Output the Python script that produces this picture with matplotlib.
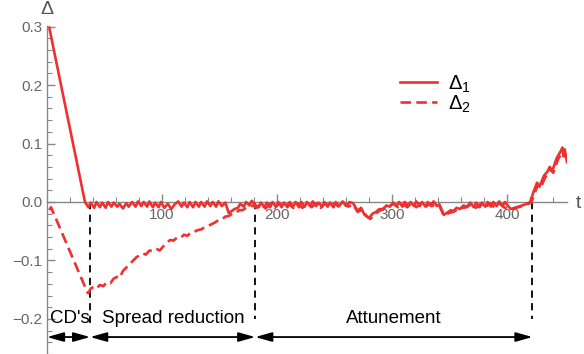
import matplotlib
matplotlib.use('Agg')
import matplotlib.pyplot as plt
from matplotlib.ticker import MultipleLocator, FuncFormatter, FixedLocator

plt.rcParams['font.family'] = ['Liberation Sans', 'DejaVu Sans']
plt.rcParams['mathtext.fontset'] = 'custom'
plt.rcParams['mathtext.rm'] = 'Liberation Sans'

# Delta_1 (solid)
t1 = [2, 33, 36, 38, 41, 43, 46, 48, 51, 53, 56, 58, 61, 63, 66, 69, 71, 74, 77, 79,
      82, 84, 87, 89, 92, 94, 97, 99, 102, 105, 108, 111, 114, 117, 119, 122, 124, 127,
      129, 132, 134, 137, 139, 142, 144, 147, 149, 152, 155, 158, 163, 166, 168, 171,
      173, 176, 178, 181, 184, 186, 189, 191, 194, 196, 199, 201, 204, 206, 209, 211,
      214, 216, 219, 221, 224, 226, 229, 231, 234, 236, 239, 241, 244, 246, 249, 251,
      254, 257, 260, 263, 266, 270, 273, 276, 280, 283, 286, 289, 292, 295, 298, 301,
      304, 306, 309, 311, 314, 316, 319, 321, 324, 326, 329, 331, 334, 336, 339, 341,
      345, 348, 351, 353, 356, 359, 362, 365, 368, 371, 373, 376, 378, 381, 383, 386,
      388, 391, 393, 396, 398, 403, 408, 413, 417, 420, 423, 426, 428, 432, 435, 437,
      439, 443, 446, 448, 449, 450, 452]
d1 = [0.298, 0.0, -0.009, -0.001, -0.010, 0.0, -0.009, -0.001, -0.010, 0.0, -0.008,
      -0.001, -0.008, -0.003, -0.011, -0.002, -0.008, 0.0, -0.008, 0.001, -0.007,
      0.0, -0.008, 0.001, -0.009, -0.001, -0.009, 0.0, -0.010, -0.003, -0.012,
      -0.004, 0.001, -0.008, -0.001, -0.009, 0.0, -0.009, 0.0, -0.008, 0.0,
      -0.008, 0.001, -0.007, 0.0, -0.008, 0.001, -0.007, -0.001, -0.019, -0.012,
      -0.010, -0.003, -0.008, 0.0, -0.006, 0.002, -0.005, -0.009, -0.001, -0.009,
      -0.001, -0.009, 0.0, -0.008, 0.0, -0.009, -0.001, -0.009, 0.0, -0.008,
      0.0, -0.009, 0.0, -0.008, 0.0, -0.007, 0.001, -0.007, -0.001, -0.008,
      0.0, -0.008, -0.001, -0.009, 0.0, -0.007, 0.001, -0.007, 0.0, -0.002,
      -0.015, -0.010, -0.022, -0.027, -0.020, -0.017, -0.012, -0.013, -0.006, -0.008,
      -0.001, -0.007, 0.0, -0.008, 0.0, -0.007, 0.0, -0.007, 0.001, -0.007,
      0.0, -0.008, 0.0, -0.007, 0.001, -0.007, -0.004, -0.022, -0.018, -0.014,
      -0.016, -0.010, -0.012, -0.006, -0.008, -0.001, -0.009, -0.001, -0.009, -0.001,
      -0.008, 0.0, -0.008, 0.0, -0.007, 0.001, -0.007, 0.0, -0.012, -0.009,
      -0.006, -0.003, 0.0, 0.018, 0.033, 0.026, 0.045, 0.052, 0.060, 0.052, 0.075,
      0.085, 0.093, 0.078, 0.090, 0.068]

# Delta_2 (dashed)
t2 = [2, 3.5, 35, 36, 38, 41, 43, 46, 49, 52, 55, 58, 61, 63, 66, 69, 72, 75, 78, 80,
      83, 86, 89, 92, 95, 98, 101, 104, 107, 110, 113, 116, 119, 122, 125, 128, 131,
      134, 137, 140, 143, 146, 149, 152, 155, 158, 161, 164, 167, 170, 173, 176, 179,
      182, 186, 190, 194, 198, 202, 206, 210, 214, 218, 222, 226, 230, 234, 238, 242,
      246, 250, 254, 258, 262, 266, 270, 274, 278, 281, 285, 289, 293, 297, 301, 305,
      309, 313, 317, 321, 325, 329, 333, 337, 341, 345, 349, 353, 357, 361, 365, 369,
      373, 377, 381, 385, 389, 393, 397, 403, 408, 413, 417, 421, 424, 427, 429, 433,
      436, 438, 440, 444, 447, 449, 451]
d2 = [-0.014, -0.009, -0.154, -0.156, -0.148, -0.145, -0.148, -0.142, -0.144, -0.137,
      -0.139, -0.131, -0.128, -0.130, -0.118, -0.112, -0.106, -0.100, -0.094, -0.092,
      -0.088, -0.090, -0.083, -0.084, -0.080, -0.083, -0.076, -0.070, -0.065, -0.066,
      -0.061, -0.062, -0.056, -0.058, -0.052, -0.051, -0.048, -0.047, -0.043, -0.041,
      -0.038, -0.035, -0.031, -0.030, -0.025, -0.024, -0.020, -0.019, -0.014, -0.014,
      -0.010, -0.009, -0.006, -0.010, -0.003, -0.011, -0.003, -0.010, -0.002, -0.010,
      -0.003, -0.010, -0.002, -0.010, -0.002, -0.009, -0.002, -0.010, -0.002, -0.010,
      -0.002, -0.009, -0.001, -0.008, -0.004, -0.017, -0.013, -0.025, -0.029, -0.021,
      -0.015, -0.010, -0.008, -0.003, -0.009, -0.002, -0.009, -0.002, -0.009, -0.002,
      -0.009, -0.002, -0.009, -0.006, -0.024, -0.019, -0.017, -0.013, -0.010, -0.009,
      -0.003, -0.010, -0.003, -0.010, -0.002, -0.009, -0.002, -0.009, -0.013, -0.010,
      -0.007, -0.004, -0.001, 0.016, 0.030, 0.024, 0.042, 0.050, 0.057, 0.050, 0.072,
      0.083, 0.090, 0.076]

# phase boundaries and labels
boundaries = [37.5, 181, 422]
phase_names = ["CD's", "Spread reduction", "Attunement"]
phase_text_x = [20, 110, 301]

red = '#ee3030'
gray = '#666666'

fig = plt.figure(figsize=(5.84, 3.54), dpi=100)
ax = fig.add_axes([47 / 584, 0, 520 / 584, 328 / 354])

ax.plot(t1, d1, color=red, lw=1.9, label=r'$\mathregular{\Delta_1}$', zorder=3)
ax.plot(t2, d2, color=red, lw=1.9, ls=(0, (4, 2)), label=r'$\mathregular{\Delta_2}$', zorder=3)

ax.set_xlim(0, 452)
ax.set_ylim(-0.26, 0.301)

# axes through origin, Mathematica style
ax.spines['top'].set_visible(False)
ax.spines['right'].set_visible(False)
ax.spines['bottom'].set_position(('data', 0))
for s in ['left', 'bottom']:
    ax.spines[s].set_color('#888888')
    ax.spines[s].set_linewidth(1.0)

ax.xaxis.set_major_locator(FixedLocator([100, 200, 300, 400]))
ax.xaxis.set_minor_locator(MultipleLocator(20))
ax.yaxis.set_major_locator(MultipleLocator(0.1))
ax.yaxis.set_minor_locator(MultipleLocator(0.02))
ax.yaxis.set_major_formatter(FuncFormatter(
    lambda v, p: ('%.1f' % (0.0 if abs(v) < 1e-9 else v)).replace('-', '\u2212')))
ax.tick_params(which='both', direction='in', colors='#888888', labelcolor=gray, labelsize=11)
ax.tick_params(which='major', length=6, width=1)
ax.tick_params(which='minor', length=3.5, width=0.8)
ax.tick_params(axis='x', pad=4)

fig.text(47 / 584, 1 - 9 / 354, 'Δ', ha='center', va='center', fontsize=14, color='#555555')
fig.text(578 / 584, 1 - 203 / 354, 't', ha='center', va='center', fontsize=14, color='#555555')

# phase markers
line_bottoms = [-0.212, -0.2, -0.2]
for b, yb in zip(boundaries, line_bottoms):
    ax.plot([b, b], [0, yb], color='black', lw=1.3, ls=(0, (4, 3)), zorder=2)

edges = [0] + boundaries
for i in range(3):
    ax.annotate('', xy=(edges[i + 1], -0.231), xytext=(edges[i], -0.231),
                arrowprops=dict(arrowstyle='<|-|>,head_length=1.0,head_width=0.28',
                                color='black', lw=1.3, shrinkA=0, shrinkB=0))
    ax.text(phase_text_x[i], -0.2, phase_names[i], ha='center', va='center',
            fontsize=13.5, color='black')

ax.legend(loc='center left', bbox_to_anchor=(390 / 584, 1 - 94 / 354),
          bbox_transform=fig.transFigure, frameon=False, fontsize=14.5,
          handlelength=1.85, handletextpad=0.55, labelspacing=-0.05, borderpad=0)

fig.savefig('out.png', dpi=100)
